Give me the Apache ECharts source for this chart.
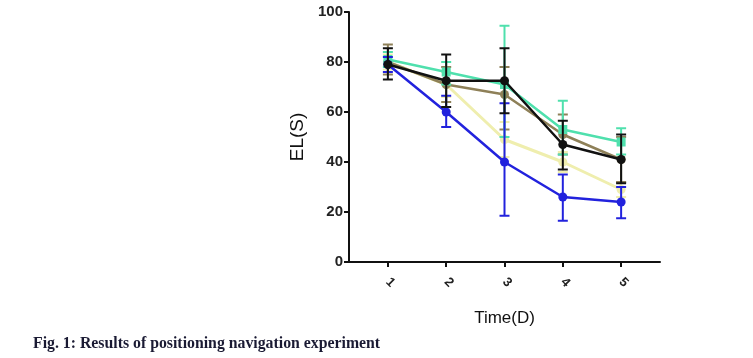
<!DOCTYPE html>
<html><head><meta charset="utf-8">
<script src="https://cdn.jsdelivr.net/npm/echarts@6/dist/echarts.min.js"></script>
<style>html,body{margin:0;padding:0;background:#fff}#c{width:753px;height:358px}</style>
</head><body><div id="c"></div>
<script>
const days = [1, 2, 3, 4, 5];
const tickLabels = ['1', '2', '3', '4', '5'];
const yTicks = [0, 20, 40, 60, 80, 100];

const yellowMean = [80, 71, 49, 40, 29];
const yellowLow  = [77, 66, 42, 36, 26];
const yellowHigh = [83, 76, 56, 44, 32];

const tanMean = [80, 71, 67, 51, 41];
const tanLow  = [75, 64, 53, 43, 32];
const tanHigh = [87, 78, 78, 59, 50];

const greenMean = [81, 76, 71, 53, 48];
const greenLow  = [78, 71, 50, 43, 43];
const greenHigh = [84, 80, 94.5, 64.5, 53.5];

const blueMean = [79, 60, 40, 26, 24];
const blueLow  = [76, 54, 18.5, 16.5, 17.5];
const blueHigh = [82, 66.5, 63.5, 35, 30];

const blackMean = [79, 72.5, 72.5, 47, 41];
const blackLow  = [73, 62, 59.5, 37, 31.5];
const blackHigh = [85.5, 83, 85.5, 56.5, 51];

const chart = echarts.init(document.getElementById('c'));

function errSeries(color, low, high, z) {
  return {
    type: 'custom', z: z, silent: true,
    data: days.map((d, i) => [d, low[i], high[i]]),
    encode: {x: 0, y: [1, 2]},
    renderItem: function (params, api) {
      const x = api.value(0);
      const lo = api.coord([x, api.value(1)]);
      const hi = api.coord([x, api.value(2)]);
      const w = 5;
      const st = {stroke: color, lineWidth: 2};
      return {type: 'group', children: [
        {type: 'line', shape: {x1: lo[0], y1: lo[1], x2: hi[0], y2: hi[1]}, style: st},
        {type: 'line', shape: {x1: lo[0] - w, y1: lo[1], x2: lo[0] + w, y2: lo[1]}, style: st},
        {type: 'line', shape: {x1: hi[0] - w, y1: hi[1], x2: hi[0] + w, y2: hi[1]}, style: st}
      ]};
    }
  };
}
function lineSeries(color, mean, z, symbol, width) {
  return {
    type: 'line', z: z, silent: true,
    data: days.map((d, i) => [d, mean[i]]),
    symbol: symbol || 'circle', symbolSize: 9,
    lineStyle: {color: color, width: width || 2.5},
    itemStyle: {color: color}
  };
}

const C = {yellow: '#efeeae', tan: '#8e8058', green: '#4fe0ad', blue: '#2222dd', black: '#111111'};

chart.setOption({
  animation: false,
  title: {
    text: 'Fig. 1: Results of positioning navigation experiment',
    left: 33, top: 336, padding: 0,
    textStyle: {fontFamily: 'Liberation Serif', fontWeight: 'bold', fontSize: 15.8, color: '#1a1a33'}
  },
  grid: {left: 349, right: 93, top: 12, bottom: 96},
  xAxis: {
    type: 'value', min: 1 / 3, max: 17 / 3,
    name: 'Time(D)', nameLocation: 'middle', nameGap: 48,
    nameTextStyle: {fontFamily: 'Liberation Sans', fontSize: 17, color: '#111'},
    axisLine: {lineStyle: {color: '#111', width: 2}},
    axisTick: {show: true, length: 5, lineStyle: {color: '#111', width: 2}, customValues: days},
    axisLabel: {customValues: days, formatter: v => tickLabels[days.indexOf(v)] || '', rotate: -45,
      fontFamily: 'Liberation Sans', fontWeight: 'bold', fontSize: 13, color: '#222', margin: 18},
    splitLine: {show: false}
  },
  yAxis: {
    type: 'value', min: 0, max: 100, interval: 20,
    name: 'EL(S)', nameLocation: 'middle', nameGap: 42,
    nameTextStyle: {fontFamily: 'Liberation Sans', fontSize: 19, color: '#111'},
    axisLine: {show: true, lineStyle: {color: '#111', width: 2}},
    axisTick: {show: true, length: 5, lineStyle: {color: '#111', width: 2}},
    axisLabel: {fontFamily: 'Liberation Sans', fontWeight: 'bold', fontSize: 15, color: '#222', margin: 6,
      formatter: v => yTicks.includes(v) ? String(v) : ''},
    splitLine: {show: false}
  },
  series: [
    errSeries(C.yellow, yellowLow, yellowHigh, 1),
    lineSeries(C.yellow, yellowMean, 2, 'circle', 3),
    errSeries(C.tan, tanLow, tanHigh, 3),
    lineSeries(C.tan, tanMean, 4),
    errSeries(C.green, greenLow, greenHigh, 5),
    lineSeries(C.green, greenMean, 6, 'rect'),
    errSeries(C.blue, blueLow, blueHigh, 7),
    lineSeries(C.blue, blueMean, 8),
    errSeries(C.black, blackLow, blackHigh, 9),
    lineSeries(C.black, blackMean, 10)
  ]
});
</script></body></html>
